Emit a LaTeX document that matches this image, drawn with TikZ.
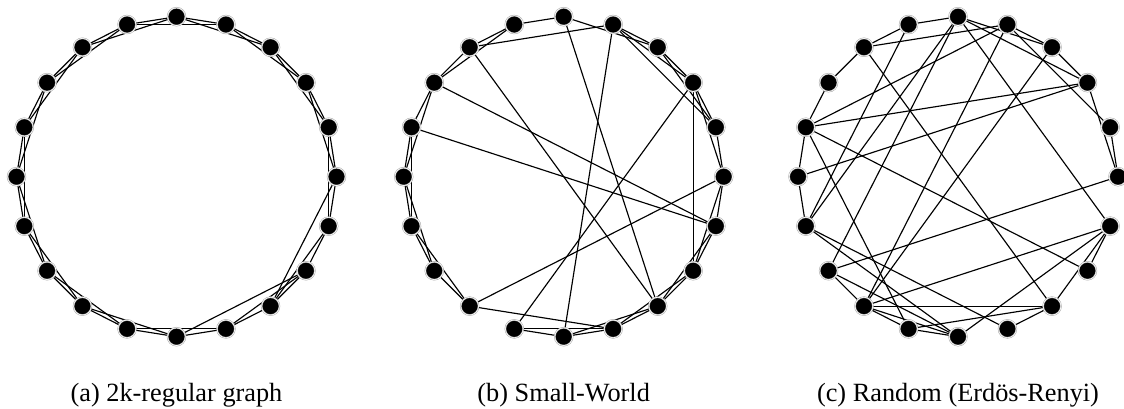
\documentclass[tikz,border=0pt]{standalone}
\usepackage{fontspec}
\setmainfont{Liberation Serif}
\newfontfamily\capfont{Liberation Serif}
\usetikzlibrary{backgrounds}
\begin{document}
\begin{tikzpicture}[x=1pt,y=-1pt,
  vtx/.style={circle,fill=black,draw=gray!70,double=white,double distance=0.6pt,line width=0.5pt,inner sep=0pt,minimum size=17.8pt},
  edge/.style={draw=black,line width=1.15pt},
  captext/.style={font=\capfont\fontsize{26.3}{30}\selectfont,anchor=base,inner sep=0pt}]
\clip (0,0) rectangle (1124,409);
\foreach \g/\cx in {a/176.5,b/563.7,c/958}{
  \foreach \i in {0,...,19}{
    \node[vtx] (\g\i) at ({\cx+160*cos(18*\i-90)},{176.7+160*sin(18*\i-90)}) {};
  }
}
\begin{pgfonlayer}{background}
% (a) 2k-regular
\foreach \u/\v in {0/1,1/2,2/3,3/4,4/5,5/6,6/7,7/8,8/9,9/10,10/11,11/12,12/13,13/14,14/15,15/16,16/17,17/18,18/19,19/0,
  0/2,1/3,2/4,3/5,4/6,6/8,7/9,9/11,10/12,11/13,12/14,13/15,14/16,15/17,16/18,17/19,18/0,19/1,5/8,7/10}
  \draw[edge] (a\u) -- (a\v);
% (b) small world
\foreach \u/\v in {19/0,19/18,19/17,18/17,18/1,18/8,17/16,17/15,17/6,16/15,16/14,16/6,15/14,15/13,14/13,14/12,13/12,
  12/5,12/9,11/9,11/10,11/3,10/9,10/8,10/1,9/8,9/7,8/7,8/6,8/0,7/6,7/5,7/3,6/5,5/4,5/3,4/3,4/2,4/1,3/2,3/1,2/1,2/0}
  \draw[edge] (b\u) -- (b\v);
% (c) random
\foreach \u/\v in {0/2,0/3,0/6,0/13,0/14,0/19,1/2,1/4,1/12,1/16,1/18,2/3,2/12,3/5,3/15,3/16,4/5,5/13,6/7,6/8,6/10,6/12,
  7/16,8/9,8/11,8/12,8/18,9/14,10/11,10/12,10/13,10/14,11/12,11/16,12/13,14/15,14/19,15/16,16/17,17/18,18/19}
  \draw[edge] (c\u) -- (c\v);
\end{pgfonlayer}
\node[captext] (capa) at (176.5,401.5) {(a) 2k-regular graph};
\node[captext] (capb) at (563.7,401.5) {(b) Small-World};
\node[captext] (capc) at (958,401.5) {(c) Random (Erdös-Renyi)};
\end{tikzpicture}
\end{document}
